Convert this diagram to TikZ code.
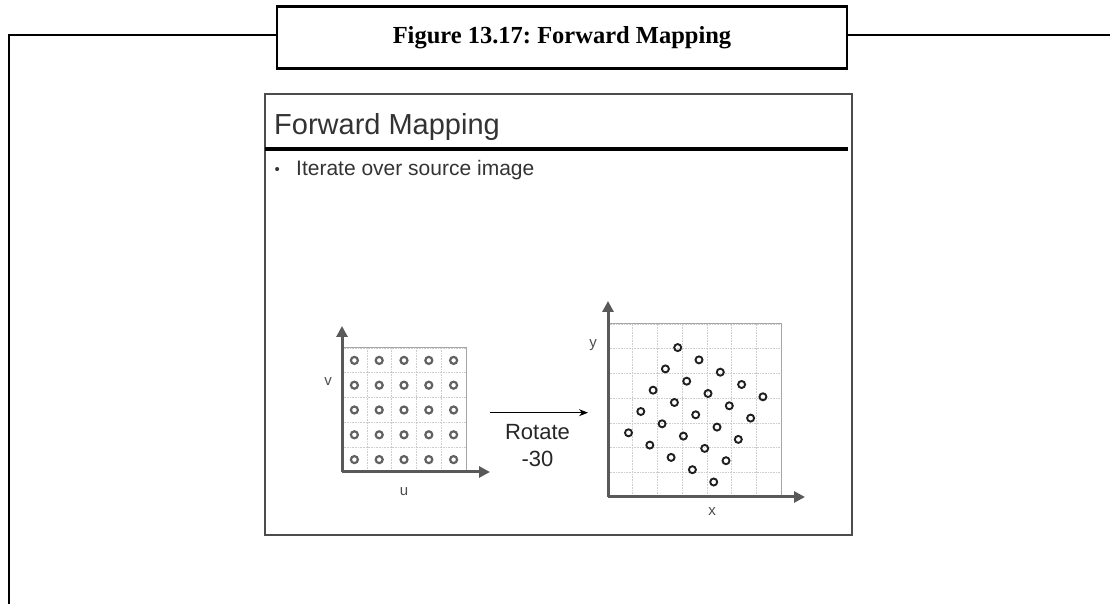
\documentclass[tikz,border=0pt]{standalone}
\usepackage{fontspec}
\setmainfont{Liberation Serif}
\newfontfamily\slidefont{Liberation Sans}
\usetikzlibrary{arrows.meta,positioning}
\frenchspacing
\tikzset{
  frameline/.style ={draw=black,line width=2.6pt},
  titlebox/.style  ={draw=black,line width=2.6pt,fill=white,inner sep=0pt,
                     minimum width=570pt,minimum height=62pt,
                     font=\bfseries\fontsize{24.5}{28}\selectfont},
  slidebox/.style  ={draw=black!70,line width=1.6pt},
  rule/.style      ={draw=black,line width=4pt},
  slidetxt/.style  ={inner sep=0pt,text=black!80,font=\slidefont},
  axis/.style      ={-{Triangle[length=11pt,width=11pt]},draw=black!65,
                     line width=3pt},
  cellbox/.style   ={draw=black!35,line width=1pt},
  cellfine/.style  ={draw=black!20,densely dotted,line width=0.6pt},
  dotsrc/.style    ={circle,draw=black!62,line width=2.2pt,minimum size=7pt,
                     inner sep=0pt},
  dotdst/.style    ={dotsrc,draw=black!88,line width=1.9pt},
  axlbl/.style     ={inner sep=0pt,text=black!70,
                     font=\slidefont\fontsize{15}{17}\selectfont},
  rotlbl/.style    ={inner sep=0pt,text=black!85,anchor=base,
                     font=\slidefont\fontsize{22}{26}\selectfont},
}

\begin{document}
\begin{tikzpicture}[
  >={Stealth[length=9pt,width=7pt]},
  x=1pt, y=1pt,
]
\useasboundingbox (0,0) rectangle (1110,604);

%% outer frame and caption
\draw[frameline] (9,0) -- (9,569) -- (1110,569);
\node[titlebox] (title) at (562,566.2) {Figure 13.17: Forward Mapping};

%% the slide
\draw[slidebox] (265,69) rectangle (852,510);
\node[slidetxt,anchor=base west,font=\slidefont\fontsize{29}{33}\selectfont]
      (head) at (274,469) {Forward Mapping};
\draw[rule] (265,455) -- (848,455);
\node[slidetxt,anchor=base west,font=\slidefont\fontsize{15}{18}\selectfont]
      (bul) at (274.5,429) {\textbullet};
\node[slidetxt,anchor=base west,font=\slidefont\fontsize{21}{25}\selectfont]
      (item) at (296,428) {Iterate over source image};

%% source image
\begin{scope}[shift={(342,132)}]
  \draw[cellfine] (0,0) grid[step=24.8] (124,124);
  \draw[cellbox] (0,0) rectangle (124,124);
  \foreach \i in {0,...,4}
    \foreach \j in {0,...,4}
      \node[dotsrc] (s\i\j) at (12.4+\i*24.8,12.4+\j*24.8) {};
\end{scope}
\coordinate (oS) at (342,132);
\coordinate (vS) at (342,278);
\coordinate (uS) at (490,132);
\draw[axis] (oS) -- (vS);
\draw[axis] (oS) -- (uS);
\node[axlbl] (vlbl) at (328,222) {v};
\node[axlbl] (ulbl) at (404,112) {u};

%% rotation arrow
\coordinate (rotS) at (490,191.3);
\coordinate (rotE) at (588,191.3);
\draw[->,line width=1.2pt] (rotS) -- (rotE);
\node[rotlbl] (rotA) at (537.5,164) {Rotate};
\node[rotlbl] (rotB) at (537.5,137.3) {-30};

%% target image
\begin{scope}[shift={(608,107)}]
  \draw[cellfine] (0,0) grid[step=24.7] (173,173);
  \draw[cellbox] (0,0) rectangle (173,173);
\end{scope}
\begin{scope}[shift={(695.7,189.2)},rotate=-30]
  \foreach \i in {-2,...,2}
    \foreach \j in {-2,...,2}
      \node[dotdst] (t\i\j) at (\i*24.6,\j*24.6) {};
\end{scope}
\coordinate (oT) at (608,107);
\coordinate (yT) at (608,303);
\coordinate (xT) at (805,107);
\draw[axis] (oT) -- (yT);
\draw[axis] (oT) -- (xT);
\node[axlbl] (ylbl) at (593,259) {y};
\node[axlbl] (xlbl) at (712,92) {x};

\end{tikzpicture}
\end{document}
